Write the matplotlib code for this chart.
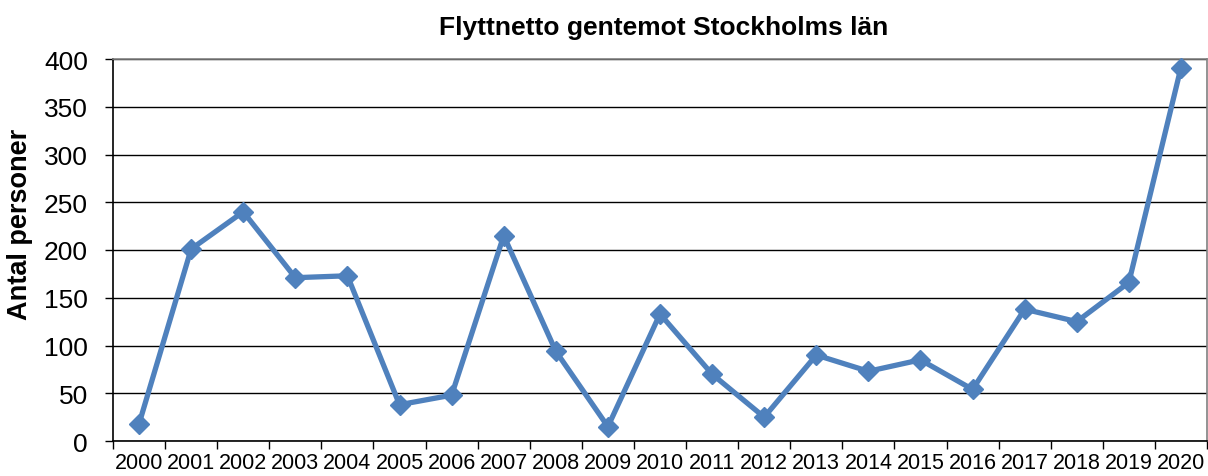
import matplotlib
matplotlib.use("Agg")
import matplotlib.pyplot as plt
import numpy as np

years = [str(y) for y in range(2000, 2021)]
values = [18, 201, 240, 171, 173, 38, 48, 215, 94, 15, 133, 70, 25, 90, 73, 85, 54, 138, 125, 166, 391]
yticks = [0, 50, 100, 150, 200, 250, 300, 350, 400]

plt.rcParams['font.family'] = ['Liberation Sans', 'DejaVu Sans']

fig = plt.figure(figsize=(12.08, 4.77), dpi=100)
ax = fig.add_axes([113/1208, 1 - 442/477, (1207 - 113)/1208, (442 - 60)/477])

x = np.arange(len(years))
ax.plot(x, values, color='#4F81BD', linewidth=3.8, marker='D', markersize=10,
        markerfacecolor='#4F81BD', markeredgecolor='#4F81BD', zorder=3, clip_on=False)

ax.set_xlim(-0.5, len(years) - 0.5)
ax.set_ylim(0, 400)
ax.set_yticks(yticks)
ax.set_yticklabels([str(v) for v in yticks], fontsize=19)
ax.yaxis.grid(True, color='black', linewidth=1.0)
ax.set_axisbelow(True)

ax.set_xticks(x)
ax.set_xticklabels(years, fontsize=15.5)
ax.set_xticks(np.arange(-0.5, len(years), 1.0), minor=True)
ax.tick_params(axis='x', which='major', length=0, pad=8)
ax.tick_params(axis='x', which='minor', length=6, width=1, color='black', direction='out')
ax.tick_params(axis='y', length=6, width=1, color='black', direction='out', pad=12)

for s in ['left', 'bottom']:
    ax.spines[s].set_color('black')
    ax.spines[s].set_linewidth(1.2)
for s in ['top', 'right']:
    ax.spines[s].set_color('#808080')
    ax.spines[s].set_linewidth(1.2)

fig.text(664/1208, 1 - 28/477, 'Flyttnetto gentemot Stockholms län', ha='center', va='center',
         fontsize=19, fontweight='bold')
fig.text(20/1208, 1 - 224/477, 'Antal personer', ha='center', va='center', rotation=90,
         fontsize=19.5, fontweight='bold')

fig.savefig('out.png', dpi=100)
